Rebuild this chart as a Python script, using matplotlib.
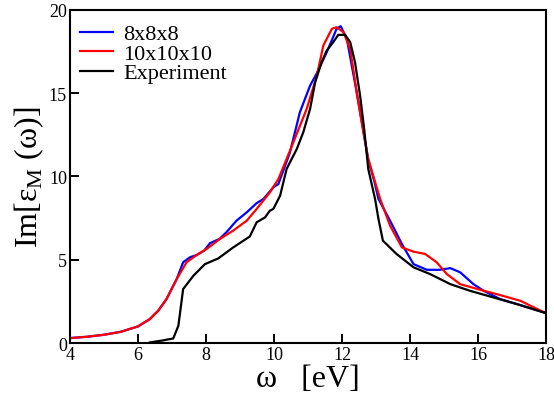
import numpy as np
import matplotlib
matplotlib.use('Agg')
import matplotlib.pyplot as plt

plt.rcParams['font.family'] = ['Liberation Serif', 'DejaVu Serif']
plt.rcParams['mathtext.fontset'] = 'custom'
plt.rcParams['mathtext.rm'] = 'Liberation Serif'

# 10x10x10 k-grid
x_red = [4.0, 4.5, 5.0, 5.5, 6.0, 6.35, 6.6, 6.84, 7.14, 7.43, 7.73, 8.02, 8.41,
         8.8, 9.2, 9.49, 9.88, 10.13, 10.47, 10.96, 11.26, 11.45, 11.7, 11.84,
         12.04, 12.24, 12.43, 12.63, 12.77, 12.95, 13.12, 13.41, 13.76, 14.1,
         14.44, 14.78, 15.08, 15.47, 16.06, 16.65, 17.24, 17.92, 18.0]
y_red = [0.30, 0.38, 0.50, 0.68, 1.00, 1.44, 1.95, 2.64, 3.84, 4.85, 5.29, 5.65, 6.25,
         6.75, 7.35, 8.05, 9.05, 9.85, 11.55, 14.05, 16.05, 17.86, 18.86, 18.96,
         18.66, 17.66, 15.06, 12.65, 11.05, 9.8, 8.65, 7.05, 5.74, 5.49,
         5.35, 4.85, 4.14, 3.54, 3.20, 2.88, 2.54, 1.86, 1.82]

# 8x8x8 k-grid
x_blue = [4.0, 4.5, 5.0, 5.5, 6.0, 6.35, 6.6, 6.84, 7.14, 7.33, 7.53, 7.73, 7.95,
          8.12, 8.4, 8.6, 8.9, 9.2, 9.49, 9.69, 9.98, 10.13, 10.47, 10.76, 11.06,
          11.26, 11.55, 11.84, 11.96, 12.14, 12.43, 12.63, 12.77, 12.95, 13.07,
          13.41, 13.76, 14.1, 14.49, 14.88, 15.18, 15.47, 15.86, 16.16, 16.65,
          17.24, 17.92, 18.0]
y_blue = [0.30, 0.38, 0.50, 0.68, 1.00, 1.44, 1.95, 2.64, 3.84, 4.85, 5.15, 5.29, 5.55,
          6.0, 6.25, 6.65, 7.35, 7.85, 8.40, 8.65, 9.35, 9.55, 11.45, 13.85, 15.45,
          16.2, 17.46, 18.86, 19.02, 18.26, 15.06, 12.65, 11.0, 9.7, 8.65,
          7.35, 5.94, 4.74, 4.40, 4.40, 4.50, 4.25, 3.54, 3.14, 2.64,
          2.28, 1.86, 1.82]

# experiment
x_exp = [6.35, 6.7, 7.04, 7.19, 7.33, 7.63, 7.97, 8.36, 8.8, 9.29, 9.49, 9.74, 9.88,
         9.98, 10.18, 10.37, 10.67, 10.86, 11.06, 11.21, 11.4, 11.55, 11.74, 11.89,
         12.09, 12.24, 12.38, 12.53, 12.65, 12.77, 12.97, 13.07, 13.2, 13.6, 14.1,
         14.59, 15.18, 15.76, 16.45, 17.14, 17.92, 18.0]
y_exp = [0.04, 0.15, 0.28, 1.04, 3.24, 4.04, 4.74, 5.08, 5.74, 6.40, 7.25, 7.55, 7.95,
         8.05, 8.85, 10.45, 11.65, 12.65, 14.05, 15.66, 16.86, 17.56, 18.06, 18.5,
         18.5, 18.06, 16.86, 14.85, 12.85, 10.45, 8.65, 7.45, 6.15, 5.35, 4.55,
         4.14, 3.54, 3.14, 2.74, 2.34, 1.84, 1.80]

fig = plt.figure(figsize=(5.54, 4.02), dpi=100)
ax = fig.add_axes([0.126, 0.144, 0.86, 0.829])

ax.plot(x_blue, y_blue, color='blue', lw=1.6, label='8x8x8')
ax.plot(x_red, y_red, color='red', lw=1.6, label='10x10x10')
ax.plot(x_exp, y_exp, color='black', lw=1.6, label='Experiment')

ax.set_xlim(4, 18)
ax.set_ylim(0, 20)
ax.set_xticks([4, 6, 8, 10, 12, 14, 16, 18])
ax.set_yticks([0, 5, 10, 15, 20])
ax.tick_params(direction='in', length=6.5, width=1.4, labelsize=13, pad=2,
               top=False, right=False)
for s in ax.spines.values():
    s.set_linewidth(1.5)

ax.set_xlabel('ω   [eV]', fontsize=23, labelpad=0.5)
ax.set_ylabel(r'Im[ε$_{\mathrm{M}}$ (ω)]', fontsize=23, labelpad=2)

ax.legend(loc='upper left', bbox_to_anchor=(0, 0.988), frameon=False,
          fontsize=16, handlelength=1.5, handletextpad=0.45,
          labelspacing=-0.05, borderaxespad=0.15, borderpad=0.3)

fig.savefig('out.png', dpi=100)
